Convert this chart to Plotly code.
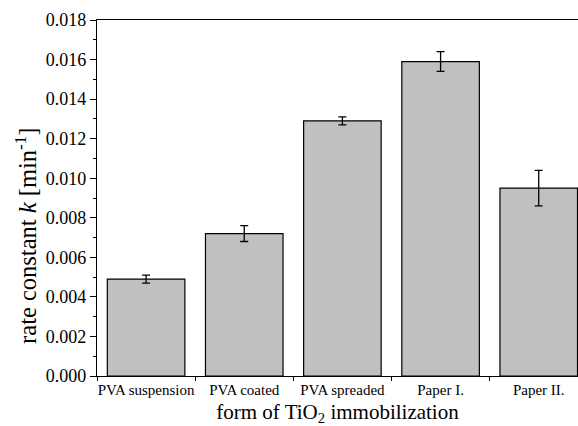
import plotly.graph_objects as go

categories = ["PVA suspension", "PVA coated", "PVA spreaded", "Paper I.", "Paper II."]
rate_k = [0.0049, 0.0072, 0.0129, 0.0159, 0.0095]
rate_err = [0.0002, 0.0004, 0.0002, 0.0005, 0.0009]
y_ticks = [0.000, 0.002, 0.004, 0.006, 0.008, 0.010, 0.012, 0.014, 0.016, 0.018]

FONT = "Liberation Serif, serif"

fig = go.Figure(go.Bar(
    x=categories, y=rate_k,
    width=0.79,
    marker=dict(color="#c0c0c0", line=dict(color="#000000", width=1.2)),
    error_y=dict(type="data", array=rate_err, visible=True, color="#000000",
                 thickness=1.3, width=4),
))

fig.update_layout(
    width=578, height=426,
    margin=dict(l=97, r=0, t=20, b=50, autoexpand=False),
    plot_bgcolor="white", paper_bgcolor="white",
    font=dict(family=FONT, color="#000000"),
    showlegend=False,
    bargap=0.21,
)
fig.update_xaxes(
    range=[-0.5, 4.4],
    showline=True, linecolor="#000000", linewidth=1.3, mirror=True,
    ticks="outside", ticklen=4, tickcolor="#000000", tickson="boundaries",
    tickangle=0,
    tickfont=dict(size=15, family=FONT),
    title=dict(text="form of TiO<sub>2</sub> immobilization", font=dict(size=21, family=FONT), standoff=8),
    showgrid=False,
)
fig.update_yaxes(
    range=[0, 0.018],
    tickvals=y_ticks, ticktext=[f"{v:.3f}" for v in y_ticks],
    showline=True, linecolor="#000000", linewidth=1.3,
    ticks="outside", ticklen=6, tickcolor="#000000",
    minor=dict(dtick=0.001, ticks="outside", ticklen=3, tickcolor="#000000", showgrid=False),
    tickfont=dict(size=18, family=FONT),
    showgrid=False, zeroline=False,
)
fig.add_annotation(
    text="rate constant <i>k</i> [min<sup>-1</sup>]",
    xref="paper", yref="paper", x=-0.148, y=0.393,
    xanchor="center", yanchor="middle", textangle=-90, showarrow=False,
    font=dict(size=24.5, family=FONT, color="#000000"),
)

fig.write_html("out.html")
